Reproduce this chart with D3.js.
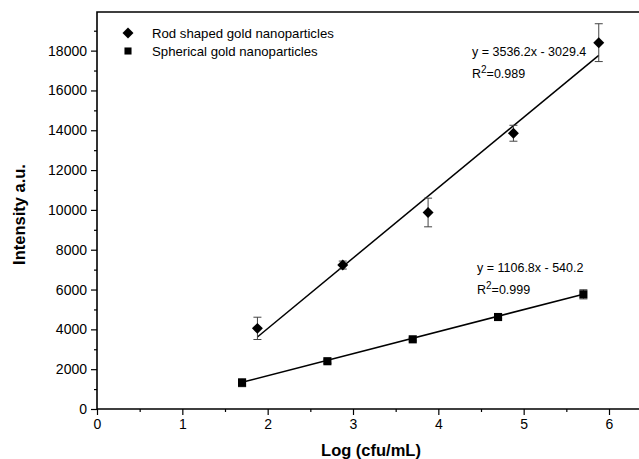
<!DOCTYPE html>
<html>
<head>
<meta charset="utf-8">
<script src="https://cdn.jsdelivr.net/npm/d3@7"></script>
<style>
  body { margin: 0; background: #fff; }
  text { font-family: "Liberation Sans", Arial, sans-serif; fill: #000; }
</style>
</head>
<body>
<div id="chart"></div>
<script>
// data
const rodX = [1.88, 2.88, 3.88, 4.88, 5.88]
const rodY = [4050, 7230, 9870, 13850, 18400]
const rodErr = [560, 200, 720, 400, 950]
const sphX = [1.70, 2.70, 3.70, 4.70, 5.70]
const sphY = [1320, 2400, 3500, 4620, 5760]
const sphErr = [200, 100, 80, 80, 230]
const rodFit = {slope: 3536.2, intercept: -3029.4, label: "y = 3536.2x - 3029.4", r2: "=0.989"}
const sphFit = {slope: 1106.8, intercept: -540.2, label: "y = 1106.8x - 540.2", r2: "=0.999"}
const xTicks = [0, 1, 2, 3, 4, 5, 6]
const yTicks = [0, 2000, 4000, 6000, 8000, 10000, 12000, 14000, 16000, 18000]
const legendNames = ["Rod shaped gold nanoparticles", "Spherical gold nanoparticles"]

const W = 639, H = 459
const margin = {top: 12, left: 97, bottom: 50}
let svg = d3.select("#chart").append("svg").attr("width", W).attr("height", H)

let scX = d3.scaleLinear().domain([0, 6]).range([margin.left, 609])
let scY = d3.scaleLinear().domain([0, 19940]).range([H - margin.bottom, margin.top])
const xEnd = scX(6.6)

// frame (right side runs past the picture)
svg.append("path")
    .attr("d", `M${xEnd},${scY(0)}H${scX(0)}V${margin.top}H${xEnd}`)
    .attr("fill", "none").attr("stroke", "#000").attr("stroke-width", 1.6)

// axes
let xAxis = d3.axisBottom(scX).tickValues(xTicks).tickSize(6).tickPadding(4).tickFormat(d3.format("d"))
svg.append("g").attr("transform", `translate(0,${scY(0)})`).call(xAxis)
let xMinor = d3.axisBottom(scX).tickValues(d3.range(0.5, 6.6, 1)).tickSize(3).tickFormat("")
svg.append("g").attr("transform", `translate(0,${scY(0)})`).call(xMinor)

let yAxis = d3.axisLeft(scY).tickValues(yTicks).tickSize(6).tickPadding(4).tickFormat(d3.format("d"))
svg.append("g").attr("transform", `translate(${scX(0)},0)`).call(yAxis)
let yMinor = d3.axisLeft(scY).tickValues(d3.range(1000, 19940, 2000)).tickSize(3).tickFormat("")
svg.append("g").attr("transform", `translate(${scX(0)},0)`).call(yMinor)

svg.selectAll(".domain").remove()
svg.selectAll(".tick line").attr("stroke", "#000").attr("stroke-width", 1.2)
svg.selectAll(".tick text").style("font-family", '"Liberation Sans", Arial, sans-serif')
    .style("font-size", "14px").attr("fill", "#000")

// axis titles
svg.append("text").attr("x", 371).attr("y", 456).attr("text-anchor", "middle")
    .style("font-size", "16.5px").style("font-weight", "bold").text("Log (cfu/mL)")
svg.append("text").attr("transform", `translate(25,${(scY(0) + margin.top) / 2 + 4}) rotate(-90)`)
    .attr("text-anchor", "middle")
    .style("font-size", "16.5px").style("font-weight", "bold").text("Intensity a.u.")

// fit lines
function fitLine(xs, fit) {
    let ends = [d3.min(xs), d3.max(xs)]
    svg.append("path")
        .attr("d", d3.line().x(d => scX(d)).y(d => scY(fit.slope * d + fit.intercept))(ends))
        .attr("fill", "none").attr("stroke", "#000").attr("stroke-width", 1.5)
}
fitLine(rodX, rodFit)
fitLine(sphX, sphFit)

// error bars and markers
function series(xs, ys, errs, shape) {
    let g = svg.append("g")
    xs.forEach((x, i) => {
        let cx = scX(x), top = scY(ys[i] + errs[i]), bot = scY(ys[i] - errs[i])
        g.append("path")
            .attr("d", `M${cx},${top}V${bot}M${cx - 4},${top}H${cx + 4}M${cx - 4},${bot}H${cx + 4}`)
            .attr("stroke", "#444").attr("stroke-width", 1).attr("fill", "none")
    })
    g.selectAll(".mk").data(ys).enter().append("path")
        .attr("d", shape)
        .attr("transform", (d, i) => `translate(${scX(xs[i])},${scY(d)})` + (shape.rot ? " rotate(45)" : ""))
        .attr("fill", "#000")
}
let diamond = d3.symbol(d3.symbolSquare, 60)
diamond.rot = true
let square = d3.symbol(d3.symbolSquare, 66)
series(rodX, rodY, rodErr, diamond)
series(sphX, sphY, sphErr, square)

// legend
legendNames.forEach((name, i) => {
    let y = 33 + i * 18
    svg.append("path").attr("d", i == 0 ? diamond() : d3.symbol(d3.symbolSquare, 50)())
        .attr("transform", `translate(128,${y})` + (i == 0 ? " rotate(45)" : ""))
        .attr("fill", "#000")
    svg.append("text").attr("x", 152).attr("y", y + 5)
        .style("font-size", "13.2px").text(name)
})

// equations
function equation(x, y, fit) {
    svg.append("text").attr("x", x).attr("y", y).style("font-size", "12.5px").text(fit.label)
    let t = svg.append("text").attr("x", x).attr("y", y + 22).style("font-size", "12.5px")
    t.append("tspan").text("R")
    t.append("tspan").attr("dy", -5).style("font-size", "10px").text("2")
    t.append("tspan").attr("dy", 5).text(fit.r2)
}
equation(472, 56, rodFit)
equation(477, 272, sphFit)
</script>
</body>
</html>
